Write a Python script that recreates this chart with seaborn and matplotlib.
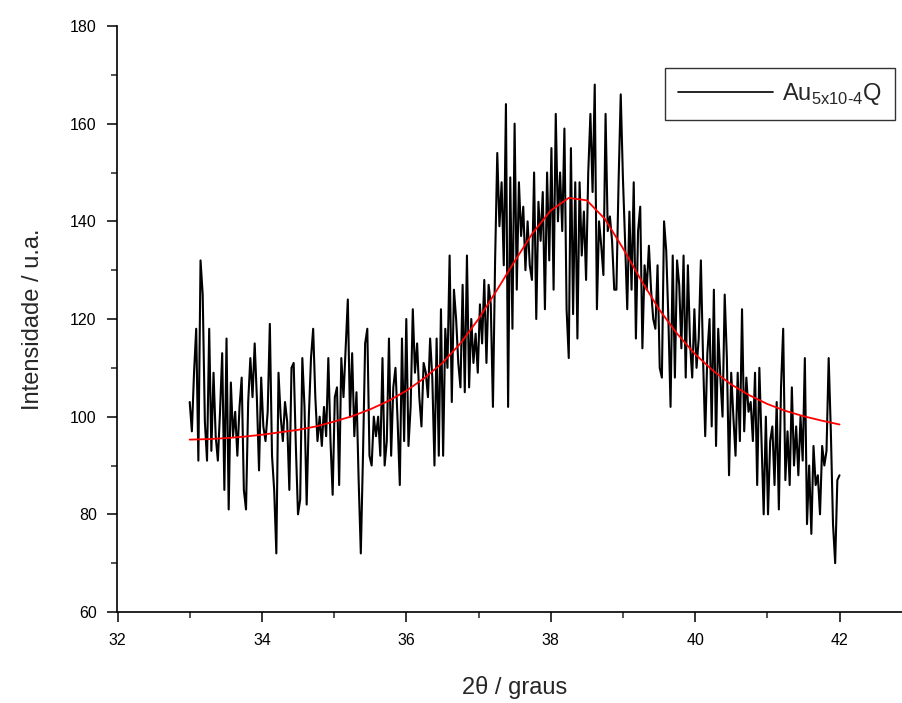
import numpy as np
import pandas as pd
import matplotlib
matplotlib.use("Agg")
import matplotlib.pyplot as plt
from matplotlib.ticker import MultipleLocator
import seaborn as sns

# ---- data ----
theta_start, theta_stop, n_points = 33.0, 42.0, 301
intensity = [
    103, 97, 109, 118, 91, 132, 125, 99, 91, 118,
    93, 109, 96, 91, 101, 113, 85, 116, 81, 107,
    96, 101, 92, 102, 108, 85, 81, 103, 112, 104,
    115, 104, 89, 108, 98, 95, 101, 119, 92, 85,
    72, 109, 100, 95, 103, 99, 85, 110, 111, 94,
    80, 83, 112, 102, 82, 100, 112, 118, 104, 95,
    100, 94, 102, 96, 112, 95, 84, 104, 106, 86,
    112, 104, 114, 124, 100, 113, 96, 105, 87, 72,
    92, 115, 118, 92, 90, 100, 96, 100, 92, 112,
    90, 95, 116, 92, 106, 110, 99, 86, 116, 95,
    120, 94, 102, 122, 109, 115, 104, 98, 111, 109,
    104, 116, 108, 90, 116, 92, 122, 92, 118, 110,
    133, 103, 126, 120, 111, 106, 127, 105, 133, 106,
    120, 111, 117, 109, 123, 115, 128, 111, 127, 123,
    102, 132, 154, 139, 148, 131, 164, 102, 149, 118,
    160, 126, 148, 137, 143, 130, 140, 131, 128, 150,
    120, 144, 136, 146, 122, 150, 132, 155, 126, 162,
    140, 150, 138, 159, 122, 112, 155, 121, 148, 116,
    148, 133, 142, 128, 150, 162, 146, 168, 122, 140,
    135, 129, 162, 138, 141, 136, 126, 126, 148, 166,
    149, 136, 122, 142, 126, 148, 116, 138, 143, 114,
    131, 126, 135, 126, 120, 118, 131, 110, 108, 140,
    134, 120, 102, 133, 108, 132, 127, 114, 133, 108,
    131, 115, 108, 122, 110, 116, 132, 112, 96, 113,
    120, 98, 126, 94, 118, 108, 100, 125, 112, 88,
    109, 100, 92, 109, 95, 122, 97, 108, 101, 103,
    95, 109, 86, 110, 95, 80, 100, 80, 95, 98,
    86, 103, 81, 106, 118, 87, 97, 86, 106, 90,
    98, 88, 100, 91, 112, 78, 90, 76, 94, 86,
    88, 80, 94, 90, 93, 112, 97, 78, 70, 87,
    88,
]
fit_theta = [33.0, 33.25, 33.5, 33.75, 34.0, 34.25, 34.5, 34.75, 35.0, 35.25,
             35.5, 35.75, 36.0, 36.25, 36.5, 36.75, 37.0, 37.25, 37.5, 37.75,
             38.0, 38.25, 38.5, 38.75, 39.0, 39.25, 39.5, 39.75, 40.0, 40.25,
             40.5, 40.75, 41.0, 41.25, 41.5, 41.75, 42.0]
fit_intensity = [95.3, 95.4, 95.6, 95.9, 96.3, 96.8, 97.3, 98.0, 99.0, 100.1,
                 101.5, 103.2, 105.3, 107.9, 111.0, 115.0, 120.0, 125.8, 131.8, 137.6,
                 142.2, 144.8, 144.3, 140.5, 134.5, 128.0, 122.0, 117.0, 112.8, 109.4,
                 106.6, 104.4, 102.6, 101.2, 100.1, 99.2, 98.4]
x_ticks = [32, 34, 36, 38, 40, 42]
y_ticks = [60, 80, 100, 120, 140, 160, 180]
series_label = "Au$_{\\mathregular{5x10\u20104}}$Q"

two_theta = np.linspace(theta_start, theta_stop, n_points)
df = pd.DataFrame({"theta": two_theta, "I": intensity})
df_fit = pd.DataFrame({"theta": fit_theta, "I": fit_intensity})

sns.set_style("ticks")
plt.rcParams["font.family"] = ["Liberation Sans", "DejaVu Sans"]
plt.rcParams["mathtext.fontset"] = "custom"
plt.rcParams["mathtext.rm"] = "Liberation Sans"

fig = plt.figure(figsize=(9.03, 7.03), dpi=100)
W, H = 903, 703
left_px, right_px, top_px, bottom_px = 117.5, 911.7, 26, 612
ax = fig.add_axes([left_px / W, 1 - bottom_px / H, (right_px - left_px) / W, (bottom_px - top_px) / H])

sns.lineplot(data=df, x="theta", y="I", ax=ax, color="black", linewidth=1.5,
             estimator=None, label=series_label)
sns.lineplot(data=df_fit, x="theta", y="I", ax=ax, color="#ff0000", linewidth=1.3,
             estimator=None, legend=False)

ax.set_xlim(32, 43)
ax.set_ylim(60, 180)
ax.set_xticks(x_ticks)
ax.set_yticks(y_ticks)
ax.xaxis.set_minor_locator(MultipleLocator(1))
ax.yaxis.set_minor_locator(MultipleLocator(10))
ax.tick_params(which="major", direction="out", length=7, width=1.1, labelsize=11.5,
               colors="black", pad=8)
ax.tick_params(which="minor", direction="out", length=4, width=1.1)
for s in ["top", "right"]:
    ax.spines[s].set_visible(False)
for s in ["left", "bottom"]:
    ax.spines[s].set_linewidth(1.2)
    ax.spines[s].set_color("black")

ax.set_xlabel("2θ / graus", fontsize=17, labelpad=20)
ax.set_ylabel("Intensidade / u.a.", fontsize=17, labelpad=19)

leg = ax.legend(loc="upper right", bbox_to_anchor=(895 / W, 1 - 68 / H),
                bbox_transform=fig.transFigure, fontsize=17, frameon=True,
                fancybox=False, edgecolor="black", handlelength=4.0,
                borderpad=0.55, handletextpad=0.4, borderaxespad=0)
leg.get_frame().set_linewidth(1.0)
for line in leg.get_lines():
    line.set_linewidth(1.2)

fig.savefig("out.png", dpi=100)
